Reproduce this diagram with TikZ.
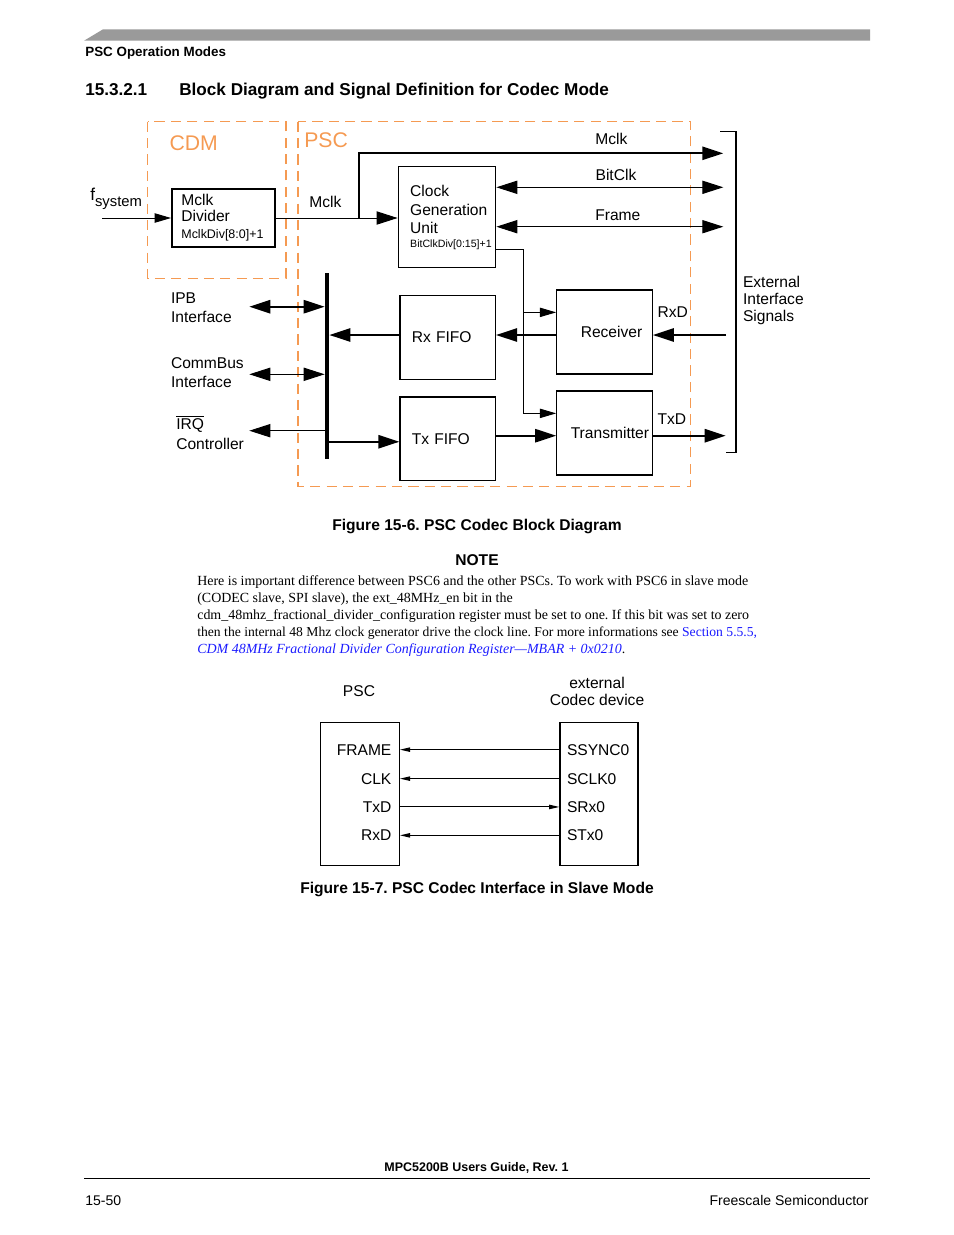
\documentclass[tikz,border=0pt]{standalone}
\usepackage{fontspec}
\setmainfont{Liberation Sans}
\newfontfamily\bodyfont[Ligatures=TeX]{Liberation Serif}
\usepackage{tikz}
\usetikzlibrary{
  arrows.meta,
  positioning,
  calc
}
\frenchspacing
\tikzset{
  BigTri/.tip={Triangle[length=13.5pt,width=8.5pt]},
  SmallTri/.tip={Triangle[length=10.5pt,width=6pt]},
  TinyTri/.tip={Triangle[length=6.5pt,width=2.8pt]},
  blk/.style={
    rectangle, draw=black, line width=0.85pt, align=center,
    inner sep=0pt, font=\fontsize{10}{12}\selectfont
  },
  fifo box/.style={blk, minimum width=21.5mm, minimum height=18.9mm},
  bus bar/.style={
    rectangle, fill=black, inner sep=0pt,
    minimum width=2.6pt, minimum height=41.87mm
  },
  zone/.style={draw=zoneOrange, line width=0.65pt, dash pattern=on 6.5pt off 4pt},
  zone lbl/.style={anchor=base west, inner sep=0pt, text=zoneOrange,
    font=\fontsize{13.6}{16}\selectfont},
  sig/.style={line width=0.65pt},
  bold/.style={line width=1.3pt},
  lbl/.style={anchor=base west, inner sep=0pt, align=left,
    font=\fontsize{10}{12}\selectfont},
  pin l/.style={anchor=base east, inner sep=0pt, font=\fontsize{10}{12}\selectfont},
  pin r/.style={anchor=base west, inner sep=0pt, font=\fontsize{10}{12}\selectfont},
  caption/.style={anchor=base, inner sep=0pt, font=\fontsize{10}{12}\selectfont\bfseries},
  body/.style={anchor=base west, inner sep=0pt,
    font=\bodyfont\fontsize{8.95}{10.9}\selectfont},
  hdr/.style={anchor=base west, inner sep=0pt, font=\fontsize{8.6}{10}\selectfont\bfseries},
  sect/.style={anchor=base west, inner sep=0pt, font=\fontsize{11}{13}\selectfont\bfseries},
  foot/.style={anchor=base west, inner sep=0pt, font=\fontsize{9}{11}\selectfont}
}
\definecolor{zoneOrange}{HTML}{F59A52}
\definecolor{barGray}{HTML}{9A9A9A}
\definecolor{linkBlue}{HTML}{1A1AFF}

\begin{document}
\begin{tikzpicture}[x=0.6415pt, y=-0.6415pt]
  \useasboundingbox (0,0) rectangle (954,1235);

  % page head
  \fill[barGray] (84,40.7) -- (103,29.3) -- (870,29.3) -- (870,40.7) -- cycle;
  \node[hdr] (runhead) at (85,56.7) {PSC Operation Modes};
  \node[sect] (secnum) at (85,95) {15.3.2.1};
  \node[sect] (sectitle) at (179,95)
    {Block Diagram and Signal Definition for Codec Mode};

  % Figure 15-6
  \draw[zone] (147.7,121.7) rectangle (286,278.3);
  \draw[zone] (298,121.7) rectangle (690.7,486);
  \node[zone lbl] (cdmlbl) at (169.3,150.7) {CDM};
  \node[zone lbl] (psclbl) at (304,147.3) {PSC};

  \node[blk, line width=1.3pt, minimum width=23.2mm, minimum height=13.1mm,
        align=left, text width=19mm] (div) at (223.5,218)
    {Mclk\\[-2pt]Divider\\[-1pt]{\fontsize{8}{9}\selectfont MclkDiv[8:0]+1}};
  \node[blk, minimum width=21.96mm, minimum height=22.77mm,
        align=left, text width=16.6mm] (cgu) at (447,217.2)
    {Clock\\Generation\\Unit\\[-3.5pt]{\fontsize{6.8}{8}\selectfont\makebox[0pt][l]{BitClkDiv[0:15]+1}}};
  \node[fifo box, align=left, text width=16.2mm] (rxfifo) at (447.7,337.5) {Rx FIFO};
  \node[fifo box, align=left, text width=16.2mm] (txfifo) at (447.7,438.8) {Tx FIFO};
  \node[fifo box, align=left, text width=10.7mm] (rcv) at (604.5,332)
    {\makebox[0pt][l]{Receiver}};
  \node[fifo box, align=left, text width=15.2mm] (trm) at (604.5,433)
    {\makebox[0pt][l]{Transmitter}};
  \node[bus bar] (bus) at (327,366.2) {};

  \coordinate (fsys) at (102,218);
  \draw[sig, -SmallTri] (fsys) -- (div.west);
  \node[lbl] (fsyslbl) at (90,200.7)
    {{\fontsize{11}{12}\selectfont f}{\fontsize{9.5}{11}\selectfont\raisebox{-3.8pt}{system}}};

  \draw[sig, -BigTri] (div.east) -- (cgu.west |- div.east);
  \node[lbl] (mclklbl) at (309,207.7) {Mclk};
  \coordinate (split) at (359,218);
  \coordinate (mclkout) at (723.3,153.3);
  \draw[bold, -BigTri] (split) |- (mclkout);
  \node[lbl] (mclktop) at (595,144) {Mclk};

  \coordinate (bitclk) at (723.3,187.3);
  \draw[sig, BigTri-BigTri] (bitclk -| cgu.east) -- (bitclk);
  \node[lbl] (bitclklbl) at (595.3,180.7) {BitClk};
  \coordinate (frame) at (723.3,226.7);
  \draw[sig, BigTri-BigTri] (frame -| cgu.east) -- (frame);
  \node[lbl] (framelbl) at (595,220) {Frame};

  \coordinate (ctl) at (523.3,249.3);
  \coordinate (rcvtap) at ([yshift=12.6pt]rcv.west);
  \coordinate (trmtap) at ([yshift=12.6pt]trm.west);
  \draw[sig, -SmallTri] (ctl -| cgu.east) -- (ctl) |- (trmtap);
  \draw[sig, -SmallTri] (rcvtap -| ctl) -- (rcvtap);

  \coordinate (rxdin) at (726,335);
  \draw[bold, -BigTri] (rxdin) -- (rxdin -| rcv.east);
  \draw[bold, -BigTri] (rxdin -| rcv.west) -- (rxdin -| rxfifo.east);
  \draw[bold, -BigTri] (rxdin -| rxfifo.west) -- (rxdin -| bus.east);
  \node[lbl] (rxdlbl) at (657.3,317.7) {RxD};

  \coordinate (txdout) at (725.7,435.7);
  \coordinate (txin) at ([yshift=-1.9pt]txfifo.west);
  \draw[bold, -BigTri] (txdout -| trm.east) -- (txdout);
  \draw[bold, -BigTri] (txdout -| txfifo.east) -- (txdout -| trm.west);
  \draw[bold, -BigTri] (txin -| bus.east) -- (txin);
  \node[lbl] (txdlbl) at (657.3,424) {TxD};

  \coordinate (ipb) at (249.3,306.7);
  \draw[bold, BigTri-BigTri] (ipb) -- (ipb -| bus.west);
  \node[lbl] (ipblbl) at (170.7,322) {IPB\\Interface};
  \coordinate (cbus) at (249.3,374.3);
  \draw[sig, BigTri-BigTri] (cbus) -- (cbus -| bus.west);
  \node[lbl] (cbuslbl) at (170.7,387) {CommBus\\Interface};
  \coordinate (irq) at (249.3,430.7);
  \draw[sig, -BigTri] (irq -| bus.west) -- (irq);
  \node[lbl] (irqlbl) at (176,449.3) {$\overline{\hbox{IRQ}}$\\[0.8pt]Controller};

  \draw[sig] (720,131.7) -- (736,131.7) -- (736,452.7) -- (726,452.7);
  \node[lbl] (extlbl) at (742.7,321.3) {External\\[-1.1pt]Interface\\[-1.1pt]Signals};

  \node[caption] (cap1) at (477,530) {Figure 15-6. PSC Codec Block Diagram};

  % note
  \node[caption] (notehd) at (477,565) {NOTE};
  \node[body] (ln1) at (197,585)
    {Here is important difference between PSC6 and the other PSCs. To work with PSC6 in slave mode};
  \node[body] (ln2) at (197,602)
    {(CODEC slave, SPI slave), the ext\_48MHz\_en bit in the};
  \node[body] (ln3) at (197,619)
    {cdm\_48mhz\_fractional\_divider\_configuration register must be set to one. If this bit was set to zero};
  \node[body, font=\bodyfont\fontsize{8.75}{10.9}\selectfont] (ln4) at (197,636)
    {then the internal 48 Mhz clock generator drive the clock line. For more informations see {\color{linkBlue}Section 5.5.5,}};
  \node[body] (ln5) at (197,653)
    {{\color{linkBlue}\itshape CDM 48MHz Fractional Divider Configuration Register—MBAR + 0x0210}.};

  % Figure 15-7
  \node[lbl, anchor=base] (psctitle) at (359,696.7) {PSC};
  \node[lbl, anchor=base, align=center] (codectitle) at (597,705)
    {external\\[-1.3pt]Codec device};
  \node[blk, minimum width=17.7mm, minimum height=32.3mm] (pscbox) at (360,793.9) {};
  \node[blk, minimum width=17.6mm, minimum height=32.3mm] (codecbox) at (599,793.9) {};

  \node[pin l] (frameP) at (391.7,755) {FRAME};
  \node[pin l] (clkP) at (391.7,784) {CLK};
  \node[pin l] (txdP) at (391.7,812.3) {TxD};
  \node[pin l] (rxdP) at (391.7,840.7) {RxD};
  \node[pin r] (ssyncC) at (566.7,755) {SSYNC0};
  \node[pin r] (sclkC) at (566.7,784) {SCLK0};
  \node[pin r] (srxC) at (566.7,812.3) {SRx0};
  \node[pin r] (stxC) at (566.7,840.7) {STx0};

  \draw[sig, -TinyTri] (codecbox.west |- ssyncC) -- (pscbox.east |- ssyncC);
  \draw[sig, -TinyTri] (codecbox.west |- sclkC) -- (pscbox.east |- sclkC);
  \draw[sig, -TinyTri] (pscbox.east |- txdP) -- (codecbox.west |- txdP);
  \draw[sig, -TinyTri] (codecbox.west |- stxC) -- (pscbox.east |- stxC);

  \node[caption] (cap2) at (477,893) {Figure 15-7. PSC Codec Interface in Slave Mode};

  % page foot
  \node[caption, font=\fontsize{8}{10}\selectfont\bfseries] (guide) at (476.5,1171)
    {MPC5200B Users Guide, Rev. 1};
  \draw[line width=0.6pt] (84,1178.3) -- (870,1178.3);
  \node[foot] (pageno) at (85,1205.7) {15-50};
  \node[foot, anchor=base east] (company) at (869,1205.7) {Freescale Semiconductor};
\end{tikzpicture}
\end{document}
